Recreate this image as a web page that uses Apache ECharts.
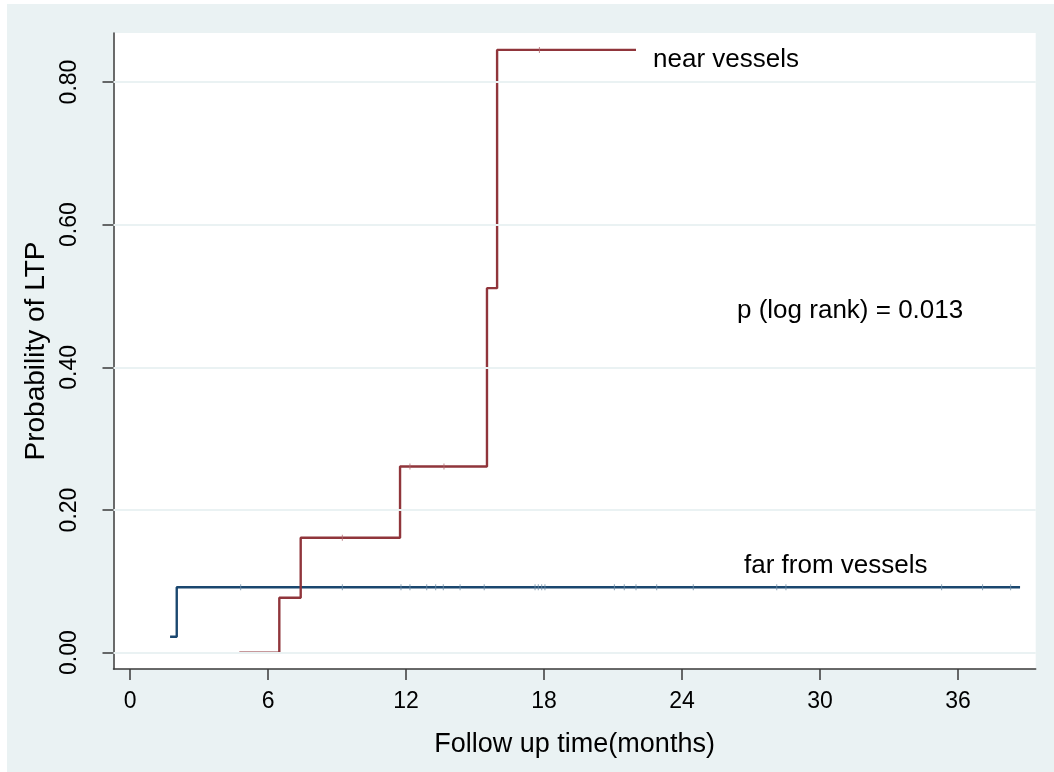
<!DOCTYPE html>
<html>
<head>
<meta charset="utf-8">
<script src="https://cdn.jsdelivr.net/npm/echarts@6/dist/echarts.min.js"></script>
<style>
html,body{margin:0;padding:0;background:#ffffff;}
#chart{width:1054px;height:772px;}
</style>
</head>
<body>
<div id="chart"></div>
<script>
// ---- data ----
const xTicks = [0, 6, 12, 18, 24, 30, 36];
const yTicks = [0, 0.2, 0.4, 0.6, 0.8];

// near vessels: step times (months) and cumulative probability after each step
const nearTimes  = [4.75, 6.49, 7.42, 11.74, 15.52, 15.96, 22.0];
const nearValues = [0.0, 0.077, 0.161, 0.261, 0.511, 0.845, 0.845];
const nearCensor = [9.23, 12.17, 13.65, 17.8];

// far from vessels
const farTimes  = [1.74, 2.03, 38.7];
const farValues = [0.0224, 0.0917, 0.0917];
const farCensor = [4.81, 9.23, 11.78, 12.17, 12.90, 13.29, 13.62, 14.35, 15.40,
                   17.61, 17.75, 17.90, 18.04, 21.06, 21.49, 22.00, 22.90, 24.49,
                   28.12, 28.52, 35.29, 37.07, 38.29];

const labels = {
  near: 'near vessels',
  far: 'far from vessels',
  p: 'p (log rank) = 0.013',
  xTitle: 'Follow up time(months)',
  yTitle: 'Probability of LTP'
};

// ---- helpers ----
function stepValue(times, values, t) {
  let v = values[0];
  for (let i = 0; i < times.length; i++) { if (times[i] <= t) v = values[i]; }
  return v;
}
const nearData = nearTimes.map((t, i) => [t, nearValues[i]]);
const farData = farTimes.map((t, i) => [t, farValues[i]]);
const nearCensorData = nearCensor.map(t => [t, stepValue(nearTimes, nearValues, t)]);
const farCensorData = farCensor.map(t => [t, stepValue(farTimes, farValues, t)]);

const BLUE = '#1a476f', RED = '#90353b', AX = '#3a3a3a', GRIDC = '#eaf2f3';
const FONT = '"Liberation Sans", Arial, sans-serif';

const chart = echarts.init(document.getElementById('chart'), null, {renderer: 'canvas'});
chart.setOption({
  backgroundColor: '#ffffff',
  animation: false,
  textStyle: {fontFamily: FONT},
  graphic: [
    {type: 'rect', z: -100, silent: true, shape: {x: 7, y: 4, width: 1047, height: 768}, style: {fill: GRIDC}},
    {type: 'text', style: {x: 653, y: 60, verticalAlign: 'middle', text: labels.near, font: '26px ' + FONT, fill: '#000'}},
    {type: 'text', style: {x: 744, y: 566, verticalAlign: 'middle', text: labels.far, font: '26px ' + FONT, fill: '#000'}},
    {type: 'text', style: {x: 737, y: 311, verticalAlign: 'middle', text: labels.p, font: '26px ' + FONT, fill: '#000'}}
  ],
  grid: {left: 113.5, top: 33, right: 18.3, bottom: 103, show: true, backgroundColor: '#ffffff', borderWidth: 0, containLabel: false},
  xAxis: {
    type: 'value', min: -0.72, max: 39.38,
    name: labels.xTitle, nameLocation: 'middle', nameGap: 62,
    nameTextStyle: {fontSize: 27, color: '#000', fontFamily: FONT},
    axisLine: {show: true, onZero: false, lineStyle: {color: AX, width: 1.5}},
    axisTick: {show: true, length: 11, customValues: xTicks, lineStyle: {color: AX, width: 1.5}},
    axisLabel: {customValues: xTicks, margin: 21, fontSize: 23, color: '#000', fontFamily: FONT},
    splitLine: {show: false}
  },
  yAxis: {
    type: 'value', min: -0.0229, max: 0.8687,
    name: labels.yTitle, nameLocation: 'middle', nameGap: 63, nameRotate: 90,
    nameTextStyle: {fontSize: 28, color: '#000', fontFamily: FONT},
    axisLine: {show: true, onZero: false, lineStyle: {color: AX, width: 1.5}},
    axisTick: {show: true, length: 11, customValues: yTicks, lineStyle: {color: AX, width: 1.5}},
    axisLabel: {customValues: yTicks, rotate: 90, margin: 32, fontSize: 23, color: '#000', fontFamily: FONT,
                formatter: v => v.toFixed(2)},
    splitLine: {show: false}
  },
  series: [
    {
      type: 'line', name: 'grid', data: [], silent: true,
      markLine: {silent: true, symbol: 'none', label: {show: false},
        lineStyle: {color: GRIDC, width: 2, type: 'solid'},
        data: yTicks.map(v => ({yAxis: v}))},
      z: 1
    },
    {type: 'line', name: labels.far, data: farData, step: 'end', showSymbol: false,
     lineStyle: {color: BLUE, width: 2.4}, z: 3},
    {type: 'line', name: labels.near, data: nearData, step: 'end', showSymbol: false,
     lineStyle: {color: RED, width: 2.4}, z: 4},
    {type: 'scatter', data: farCensorData, symbol: 'rect', symbolSize: [1, 6],
     itemStyle: {color: '#6f8ea8'}, z: 5},
    {type: 'scatter', data: nearCensorData, symbol: 'rect', symbolSize: [1, 6],
     itemStyle: {color: '#b06a70'}, z: 5}
  ]
});
</script>
</body>
</html>
